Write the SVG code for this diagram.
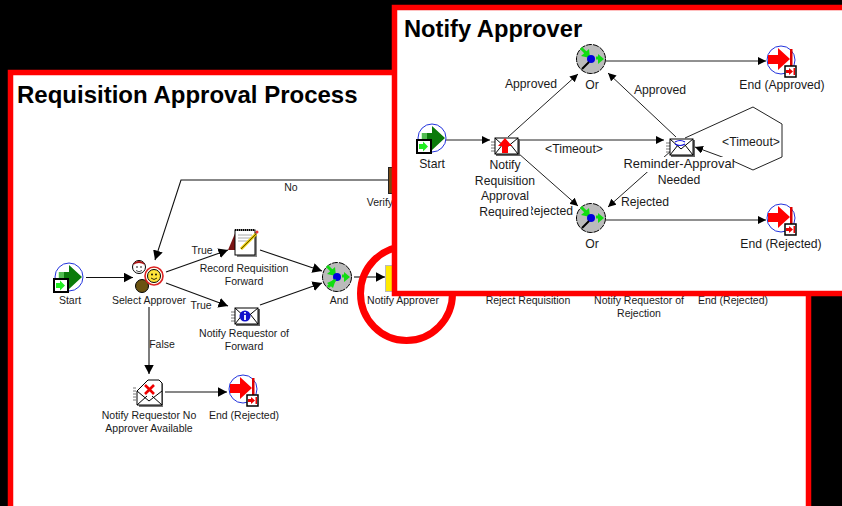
<svg xmlns="http://www.w3.org/2000/svg" xmlns:xlink="http://www.w3.org/1999/xlink" width="842" height="506" viewBox="0 0 842 506">
<style>
text{font-family:"Liberation Sans",Arial,sans-serif;fill:#1a1a1a}
.s{font-size:10.5px;text-anchor:middle}
.l{font-size:12.2px;text-anchor:middle}
.t{font-size:24px;font-weight:700;fill:#000}
.c{fill:none;stroke:#111;stroke-width:1.1;marker-end:url(#a)}
.d{fill:none;stroke:#222;stroke-width:1;marker-end:url(#b)}
.p{fill:none;stroke:#222;stroke-width:1}
.f{fill:#fff;stroke:#f00;stroke-width:5.5}
</style>
<defs>
<marker id="a" markerUnits="userSpaceOnUse" markerWidth="11" markerHeight="12" refX="9.500" refY="5" orient="auto">
<path d="M0 0L9.500 5L0 10z" fill="#000"/>
</marker>
<marker id="b" markerUnits="userSpaceOnUse" markerWidth="10" markerHeight="10" refX="8" refY="4" orient="auto">
<path d="M0 0L8 4L0 8z" fill="#000"/>
</marker>
<g id="start">
<circle r="14" cx="1" fill="#fff" stroke="#2233dd"/>
<path d="M-9-5H1V-12L14 0L1 12V5H-9z" fill="#0a7a0a"/>
<path d="M-9-5V5M-7-5V5M-5-5V5" stroke="#9f9" stroke-width="1"/>
<rect x="-14" y="2" width="14" height="13" fill="#fff" stroke="#000" stroke-width="2"/>
<path d="M-12 6H-8V3.500L-3 8.500L-8 13.500V11H-12z" fill="#2e2"/>
</g>
<g id="end">
<circle r="14" fill="#fff" stroke="#2233dd"/>
<path d="M-13-5H-3V-12L9-1L-3 10V4H-13z" fill="#f00"/>
<rect x="9" y="-11" width="2.500" height="18" fill="#d00"/>
<rect x="4" y="6" width="11" height="11" fill="#fff" stroke="#000" stroke-width="1.500"/>
<path d="M5 10H8V8L12 11.500L8 15V13H5zM12.500 8H14V15H12.500z" fill="#e00"/>
</g>
<g id="gate">
<circle r="14.500" fill="#bbb" stroke="#000" stroke-width="1" stroke-dasharray="6 1"/>
<path d="M-10-11L-3-4" stroke="#1d1" stroke-width="3"/>
<path d="M-2-10L-1-1L-10-3z" fill="#1d1"/>
<path d="M5-1H8" stroke="#1d1" stroke-width="3"/>
<path d="M7-5L13 0L7 5z" fill="#1d1"/>
<circle r="4" fill="#00d"/>
</g>
<g id="env">
<path d="M-14-4H-10M-14-1H-10M-14 2H-10M-14 5H-10" stroke="#777" stroke-width="1"/>
<rect x="-9" y="-7" width="24" height="17" fill="#666"/>
<rect x="-10" y="-8" width="23" height="16" fill="#fff" stroke="#000"/>
<path d="M-10-8L1 2L13-8M-10 8L-2-2M13 8L5-2" fill="none" stroke="#000" stroke-width="1"/>
</g>
</defs>
<rect width="842" height="506" fill="#000"/>
<rect class="f" x="10.500" y="72.500" width="798" height="500"/>
<text class="t" x="17" y="103">Requisition Approval Process</text>

<g id="process-connectors">
<path class="c" d="M86 277.500H133"/>
<path class="c" d="M390 180H181L155 260"/>
<path class="c" d="M166 272L228 250"/>
<path class="c" d="M166 283L228 306"/>
<path class="c" d="M149 307V374"/>
<path class="c" d="M165 392H227"/>
<path class="c" d="M260 250L322 271"/>
<path class="c" d="M260 305L322 283"/>
<path class="c" d="M354 277H385"/>
<text class="s" x="291" y="191">No</text>
<text class="s" x="202" y="254">True</text>
<text class="s" x="201" y="309">True</text>
<text class="s" x="162" y="348">False</text>
</g>

<g id="p-start"><use href="#start" x="68" y="277"/><text class="s" x="70" y="304">Start</text></g>
<g id="p-select-approver">
<circle cx="139" cy="267" r="6.500" fill="#fff" stroke="#000"/>
<path d="M133 265A6.500 6.500 0 0 1 145 265Q139 261 133 265z" fill="#a11"/>
<circle cx="137" cy="267" r=".8"/><circle cx="141" cy="267" r=".8"/><path d="M136 270.500Q139 273 142 270.500" fill="none" stroke="#000" stroke-width=".7"/>
<circle cx="142" cy="286" r="6.500" fill="#6b5310" stroke="#000"/>
<circle cx="154" cy="276" r="9" fill="#ffe" stroke="#d22" stroke-width="1.600"/>
<circle cx="154" cy="276" r="6.500" fill="#ffe53a" stroke="#000"/>
<circle cx="152" cy="274.500" r=".9"/><circle cx="156" cy="274.500" r=".9"/><path d="M151 278Q154 281 157 278" fill="none" stroke="#000" stroke-width=".8"/>
<text class="s" x="149" y="304">Select Approver</text>
</g>
<g id="p-record-forward">
<path d="M228 250L236 231H240V250z" fill="#7a1414"/>
<rect x="237" y="232" width="20" height="25" fill="#888"/>
<rect x="235" y="230" width="20" height="25" fill="#fff" stroke="#000"/>
<path d="M235 230H255" stroke="#000" stroke-width="2" stroke-dasharray="1 1"/>
<path d="M238 235H252M238 238H252M238 241H250" stroke="#aaa"/>
<path d="M241 249L256 234" stroke="#e8c800" stroke-width="3"/>
<path d="M241 249L256 234" stroke="#000" stroke-width=".6"/>
<circle cx="257" cy="232" r="1.500" fill="#e33"/>
<text class="s" x="244" y="272">Record Requisition</text>
<text class="s" x="244" y="285">Forward</text>
</g>
<g id="p-notify-forward">
<use href="#env" x="245" y="316"/>
<circle cx="245" cy="316" r="5.500" fill="#11c"/><path d="M245 312V313.500M245 315V320" stroke="#fff" stroke-width="1.800"/>
<text class="s" x="244" y="337">Notify Requestor of</text>
<text class="s" x="244" y="350">Forward</text>
</g>
<g id="p-notify-none">
<path d="M133 388H136M133 391H136M133 394H136M133 397H136M133 400H136" stroke="#777"/>
<path d="M139 407V392L149 381H160L163 384V407z" fill="#777"/>
<path d="M137 405V391L148 380H159L162 383V405z" fill="#fff" stroke="#000"/>
<path d="M137 391L149 401L162 391M137 405L147 396M162 405L152 396" fill="none" stroke="#000"/>
<path d="M145 385L154 394M154 385L145 394" stroke="#e00" stroke-width="2.600"/>
<text class="s" x="149" y="419">Notify Requestor No</text>
<text class="s" x="149" y="432">Approver Available</text>
</g>
<g id="p-end-rejected-1"><use href="#end" x="243" y="389"/><text class="s" x="244" y="419">End (Rejected)</text></g>
<g id="p-and"><use href="#gate" x="337" y="277"/><path d="M328 287L335 280" stroke="#1d1" stroke-width="3"/><path d="M327 283L336 279L333 288z" fill="#1d1"/><text class="s" x="339" y="304">And</text></g>
<g id="p-verify">
<rect x="388.500" y="167.500" width="5" height="26" fill="#7a4a14" stroke="#222"/>
<text class="s" x="380" y="206">Verify</text>
</g>
<g id="p-notify-approver">
<rect x="385.500" y="265.500" width="8" height="26" fill="#ffea00" stroke="#bbb"/>
<text class="s" x="403" y="304">Notify Approver</text>
</g>
<g id="p-reject"><text class="s" x="528" y="304">Reject Requisition</text></g>
<g id="p-notify-rejection">
<text class="s" x="639" y="304">Notify Requestor of</text>
<text class="s" x="639" y="317">Rejection</text>
</g>
<g id="p-end-rejected-2"><text class="s" x="733" y="304">End (Rejected)</text></g>

<ellipse id="highlight" cx="406.500" cy="293.500" rx="46" ry="47" fill="none" stroke="#f00" stroke-width="7"/>

<rect class="f" x="394.500" y="7.500" width="500" height="286"/>
<text class="t" style="font-size:23.700px" x="404" y="37">Notify Approver</text>

<g id="notify-connectors">
<path class="d" d="M445 140H490"/>
<path class="d" d="M508 137L578 74"/>
<path class="d" d="M518 153L578 206"/>
<path class="d" d="M518 140H664"/>
<path class="d" d="M676 137L608 73"/>
<path class="d" d="M672 150L608 207"/>
<path class="p" d="M685 138L753 107L782 124V157L753 170L733 161"/>
<path class="d" d="M733 161L695 147"/>
<path class="d" d="M606 61H766"/>
<path class="d" d="M606 220H766"/>
<text class="l" x="531" y="88">Approved</text>
<text class="l" x="574" y="153">&lt;Timeout&gt;</text>
<text class="l" x="660" y="94">Approved</text>
<text class="l" x="751" y="146">&lt;Timeout&gt;</text>
<text class="l" x="645" y="206">Rejected</text>
<text class="l" style="text-anchor:end" x="573" y="215">Rejected</text>
</g>

<g id="n-start"><use href="#start" x="431" y="138" /><text class="l" x="432" y="168">Start</text></g>
<g id="n-notify">
<use href="#env" x="505" y="146"/>
<path d="M505 138L512 146H508V153H502V146H498z" fill="#f00"/>
<rect x="524" y="204" width="7" height="14" fill="#fff"/>
<text class="l" x="505" y="169">Notify</text>
<text class="l" x="505" y="185">Requisition</text>
<text class="l" x="505" y="200">Approval</text>
<text class="l" x="504" y="216">Required</text>
</g>
<g id="n-or-top"><use href="#gate" x="591" y="59"/><path d="M582 69L589 62" stroke="#000" stroke-width="2"/><text class="l" x="592" y="89">Or</text></g>
<g id="n-or-bottom"><use href="#gate" x="591" y="218"/><path d="M582 228L589 221" stroke="#000" stroke-width="2"/><text class="l" x="592" y="248">Or</text></g>
<g id="n-reminder">
<use href="#env" x="680" y="147"/>
<path d="M675 142Q680 139 685 142M675 144Q680 147 685 144" fill="none" stroke="#11d" stroke-width="1.200"/>
<rect x="625" y="157" width="108" height="15" fill="#fff"/>
<text class="l" style="font-size:12.900px" x="679" y="168">Reminder-Approval</text>
<text class="l" x="679" y="184">Needed</text>
</g>
<g id="n-end-approved"><use href="#end" x="781" y="60"/><text class="l" x="782" y="89">End (Approved)</text></g>
<g id="n-end-rejected"><use href="#end" x="781" y="218"/><text class="l" x="781" y="248">End (Rejected)</text></g>
</svg>
